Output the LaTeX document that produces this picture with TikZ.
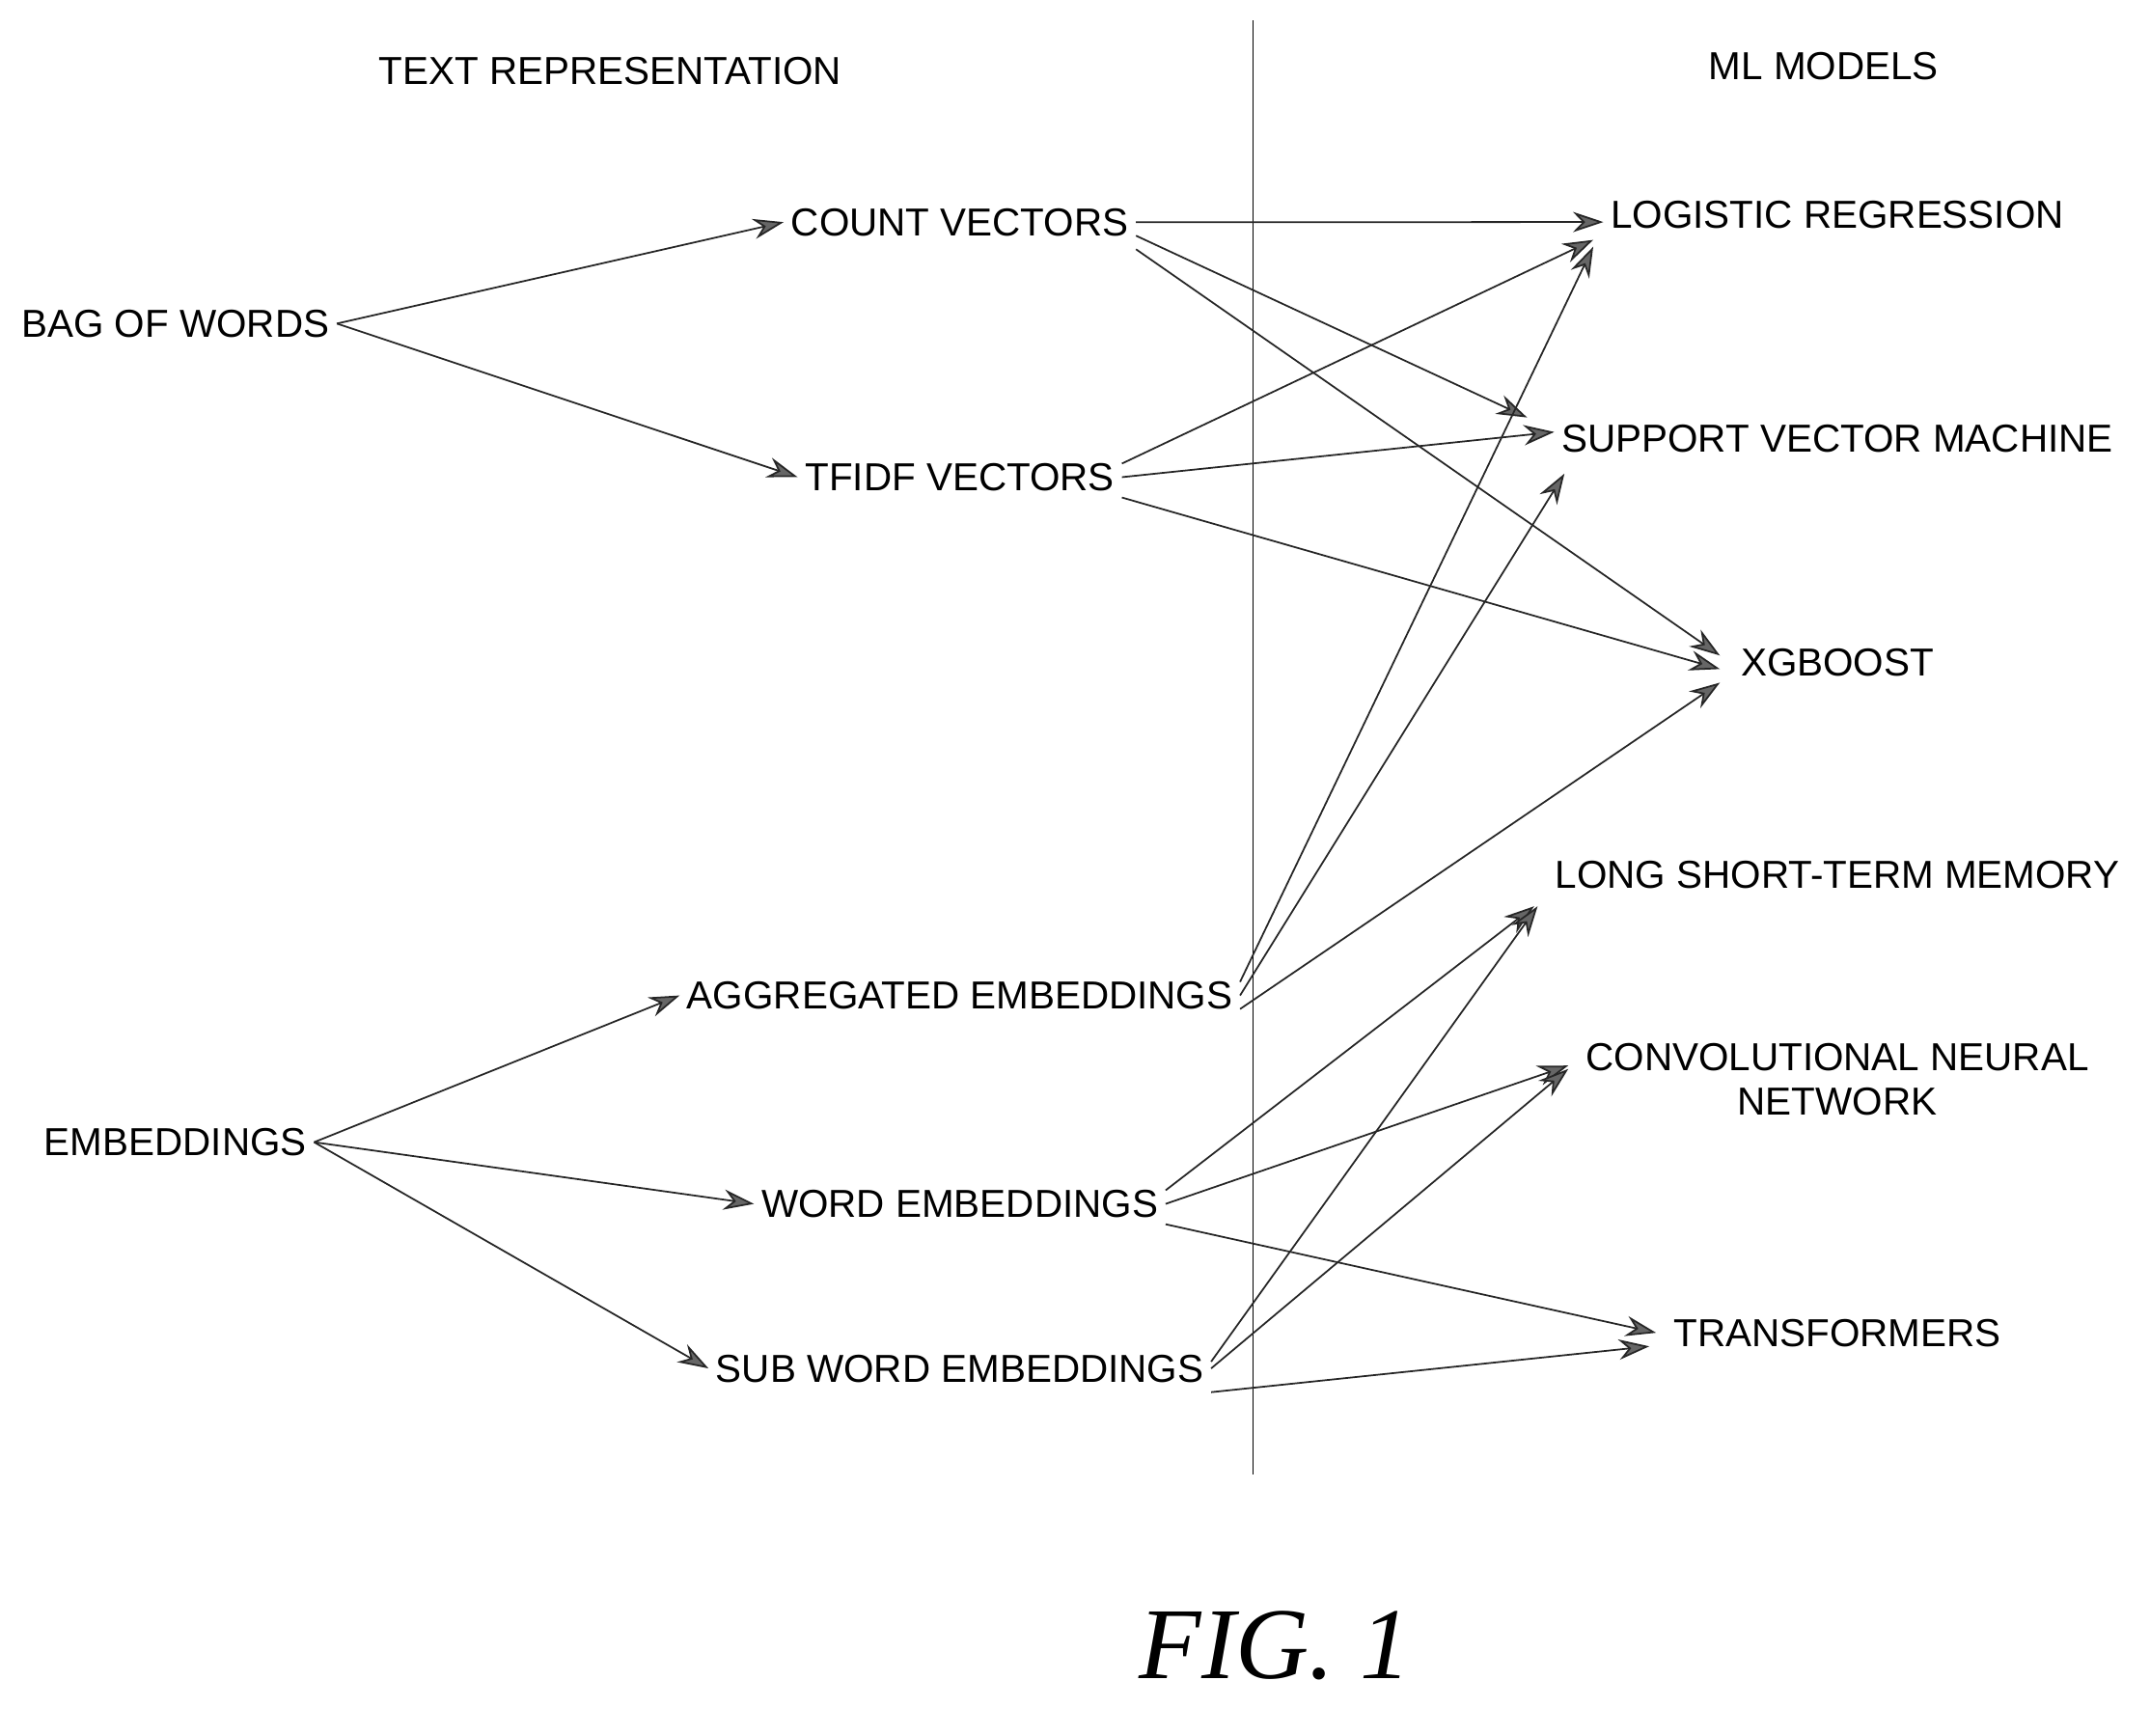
\documentclass[tikz,border=0pt]{standalone}
\usepackage{fontspec}
\setmainfont{Liberation Sans}
\newfontfamily\figfont{Liberation Serif}
\usetikzlibrary{positioning,arrows.meta}
\begin{document}
\begin{tikzpicture}[x=0.01421cm, y=-0.01421cm,
                    lbl/.style={font=\fontsize{11.5}{13}\selectfont, inner sep=2pt, align=center},
                    conn/.style={line width=0.5pt, black!85, -{Stealth[length=9pt,width=6pt,fill=black!60]}}]
\useasboundingbox (0,0) rectangle (1568,1266);

% headings and divider
\node[lbl] (TR) at (445,52) {TEXT REPRESENTATION};
\node[lbl] (ML) at (1330,48) {ML MODELS};
\coordinate (D1) at (914,15);
\coordinate (D2) at (914,1075);
\draw[line width=0.4pt] (D1) -- (D2);

% text representation
\node[lbl] (BOW) at (128,236) {BAG OF WORDS};
\node[lbl] (CV) at (700,162) {COUNT VECTORS};
\node[lbl] (TF) at (700,348) {TFIDF VECTORS};
\node[lbl] (EMB) at (128,833) {EMBEDDINGS};
\node[lbl] (AGG) at (700,726) {AGGREGATED EMBEDDINGS};
\node[lbl] (WE) at (700,878) {WORD EMBEDDINGS};
\node[lbl] (SWE) at (700,998) {SUB WORD EMBEDDINGS};

% ml models
\node[lbl] (LR) at (1340,157) {LOGISTIC REGRESSION};
\node[lbl] (SVM) at (1340,320) {SUPPORT VECTOR MACHINE};
\node[lbl] (XGB) at (1340,483) {XGBOOST};
\node[lbl] (LSTM) at (1340,638) {LONG SHORT-TERM MEMORY};
\node[lbl] (CNN) at (1340,787) {CONVOLUTIONAL NEURAL\\NETWORK};
\node[lbl] (TRF) at (1340,972) {TRANSFORMERS};

\node[font=\fontsize{30}{32}\selectfont\figfont\itshape] (FIG) at (930,1200) {FIG. 1};

\path[conn]
    (BOW.east) edge (CV.west)
    (BOW.east) edge (TF.west)
    (CV.east) edge ([yshift=-2pt]LR.west)
    ([yshift=-4pt]CV.east) edge ([xshift=-8pt]SVM.north west)
    ([yshift=-8pt]CV.east) edge ([xshift=-4pt,yshift=2pt]XGB.west)
    ([yshift=4pt]TF.east) edge ([xshift=-3pt,yshift=-1pt]LR.south west)
    (TF.east) edge ([yshift=2pt]SVM.west)
    ([yshift=-6pt]TF.east) edge ([xshift=-4pt,yshift=-2pt]XGB.west)
    ([yshift=4pt]AGG.east) edge ([xshift=-3pt,yshift=-3pt]LR.south west)
    (AGG.east) edge ([xshift=3pt,yshift=-4pt]SVM.south west)
    ([yshift=-4pt]AGG.east) edge ([xshift=-4pt,yshift=-6pt]XGB.west)
    (EMB.east) edge (AGG.west)
    (EMB.east) edge (WE.west)
    (EMB.east) edge (SWE.west)
    ([yshift=4pt]WE.east) edge ([xshift=-4pt,yshift=-3pt]LSTM.south west)
    (WE.east) edge ([xshift=-3pt,yshift=4pt]CNN.west)
    ([yshift=-6pt]WE.east) edge ([xshift=-3pt]TRF.west)
    ([yshift=2pt]SWE.east) edge ([xshift=-3pt,yshift=-3pt]LSTM.south west)
    (SWE.east) edge ([xshift=-3pt,yshift=3pt]CNN.west)
    ([yshift=-7pt]SWE.east) edge ([xshift=-5pt,yshift=-4pt]TRF.west);
\end{tikzpicture}
\end{document}
